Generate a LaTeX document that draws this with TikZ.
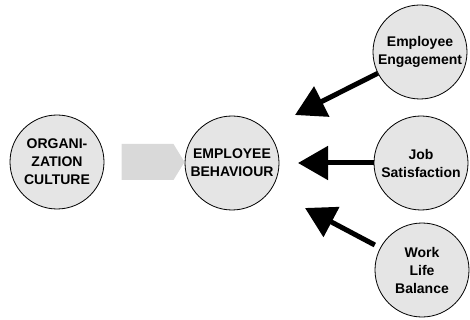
\documentclass[tikz,border=0pt]{standalone}
\usepackage{fontspec}
\setmainfont{Liberation Sans}
\usetikzlibrary{arrows.meta,shapes.symbols}
\begin{document}
\begin{tikzpicture}[x=1pt,y=-1pt,
  bubble/.style={circle,draw,line width=0.8pt,fill=gray!20,inner sep=0pt,minimum size=94pt,align=center,font=\fontsize{14}{18}\selectfont\bfseries},
  push/.style={line width=5pt,-{Triangle[length=30pt,width=33pt]}}]
\useasboundingbox (0,0) rectangle (470,320);
\node[bubble] (oc) at (57,162) {ORGANI-\\ZATION\\CULTURE};
\node[bubble] (eb) at (232,163) {EMPLOYEE\\BEHAVIOUR};
\node[bubble] (ee) at (420,52) {Employee\\Engagement};
\node[bubble] (js) at (421,163) {Job\\Satisfaction};
\node[bubble] (wl) at (422,270) {Work\\Life\\Balance};
\node[signal,signal to=east,signal pointer angle=117,fill=gray!30,minimum width=63pt,minimum height=36pt,inner sep=0pt] (flow) at (147.5,162) {};
\coordinate (t1) at (295,115);
\coordinate (t2) at (298,163);
\coordinate (t3) at (305,208);
\draw[push] (ee)--(t1);
\draw[push] (js)--(t2);
\draw[push,shorten <=6pt] (wl)--(t3);
\end{tikzpicture}
\end{document}
